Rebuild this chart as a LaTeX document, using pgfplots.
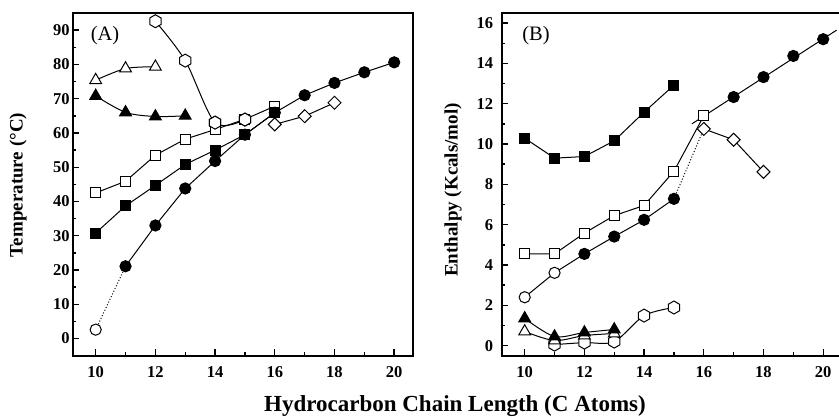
\documentclass[border=0pt]{standalone}
\usepackage{pgfplots}
\pgfplotsset{compat=1.18}
\usepackage{fontspec}
\setmainfont{Liberation Serif}

\pgfdeclareplotmark{hexagon}{%
  \pgfpathmoveto{\pgfpointpolar{90}{\pgfplotmarksize}}%
  \pgfpathlineto{\pgfpointpolar{150}{\pgfplotmarksize}}%
  \pgfpathlineto{\pgfpointpolar{210}{\pgfplotmarksize}}%
  \pgfpathlineto{\pgfpointpolar{270}{\pgfplotmarksize}}%
  \pgfpathlineto{\pgfpointpolar{330}{\pgfplotmarksize}}%
  \pgfpathlineto{\pgfpointpolar{30}{\pgfplotmarksize}}%
  \pgfpathclose
  \pgfusepathqfillstroke}
\pgfdeclareplotmark{rdiamond}{%
  \pgfpathmoveto{\pgfpoint{0pt}{\pgfplotmarksize}}%
  \pgfpathlineto{\pgfpoint{\pgfplotmarksize}{0pt}}%
  \pgfpathlineto{\pgfpoint{0pt}{-\pgfplotmarksize}}%
  \pgfpathlineto{\pgfpoint{-\pgfplotmarksize}{0pt}}%
  \pgfpathclose
  \pgfusepathqfillstroke}

\pgfplotsset{
  base/.style={
    scale only axis, width=340.3pt, height=342.7pt,
    xmin=9.23, xmax=20.63,
    axis line style={line width=1.7pt},
    every tick/.style={black, line width=1.4pt},
    tick align=inside, xtick pos=bottom, ytick pos=left,
    major tick length=6.5pt, minor tick length=3.5pt,
    xtick={10,12,...,20}, minor x tick num=1, minor y tick num=1,
    tick label style={font=\fontsize{16.5}{16.5}\selectfont\bfseries},
    /pgf/number format/assume math mode=true,
    xticklabel style={yshift=-7.5pt},
    every axis plot/.append style={black, line width=1pt},
  },
  fc/.style={mark=*, mark size=5.6pt, mark options={solid, fill=black}},
  oc/.style={mark=*, mark size=5.6pt, mark options={solid, fill=white}},
  fs/.style={mark=square*, mark size=5pt, mark options={solid, fill=black}},
  os/.style={mark=square*, mark size=5pt, mark options={solid, fill=white}},
  ft/.style={mark=triangle*, mark size=6.8pt, mark options={solid, fill=black}},
  ot/.style={mark=triangle*, mark size=6.8pt, mark options={solid, fill=white}},
  oh/.style={mark=hexagon, mark size=6.5pt, mark options={solid, fill=white}},
  od/.style={mark=rdiamond, mark size=6.5pt, mark options={solid, fill=white}},
}

\begin{document}
\begin{tikzpicture}[x=1pt,y=1pt]
\path[use as bounding box] (0,0) rectangle (839,418);
\clip (0,0) rectangle (839,418);

% ---------------- Panel A ----------------
\begin{axis}[base, at={(72.7pt,62.3pt)}, anchor=south west,
  ymin=-5, ymax=95, ytick={0,10,...,90},
  yticklabel style={xshift=0.5pt}]
\addplot[smooth, oh] coordinates {(12,92.6) (13,81.1) (14,63.0) (15,63.9)};
\addplot[smooth, ot] coordinates {(10,75.4) (11,78.8) (12,79.3)};
\addplot[smooth, ft] coordinates {(10,70.8) (11,66.0) (12,64.8) (13,65.0)};
\addplot[os] coordinates {(10,42.5) (11,45.9) (12,53.5) (13,58.2) (14,61.0) (15,64.0) (16,67.8)};
\addplot[fs] coordinates {(10,30.8) (11,38.7) (12,44.7) (13,50.8) (14,55.0) (15,59.5) (16,65.9)};
\addplot[dotted, line width=1pt, mark=none] coordinates {(10,2.6) (11,21.1)};
\addplot[only marks, oc] coordinates {(10,2.6)};
\addplot[fc] coordinates {(11,21.1) (12,33.0) (13,43.8) (14,51.8) (15,59.5) (16,65.9) (17,71.0) (18,74.6) (19,77.7) (20,80.6)};
\addplot[od] coordinates {(16,62.5) (17,64.9) (18,68.8)};
\addplot[only marks, oh] coordinates {(14,63.0) (15,63.9)};
\end{axis}

% ---------------- Panel B ----------------
\begin{axis}[base, at={(501.7pt,62.3pt)}, anchor=south west,
  ymin=-0.5, ymax=16.5, ytick={0,2,...,16},
  yticklabel style={xshift=-5pt}]
\addplot[fs] coordinates {(10,10.29) (11,9.30) (12,9.38) (13,10.16) (14,11.58) (15,12.92)};
\addplot[mark=none] coordinates {(15.6,11.0) (20.45,15.65)};
\addplot[only marks, fc] coordinates {(17,12.33) (18,13.32) (19,14.37) (20,15.2)};
\addplot[dotted, line width=1pt, mark=none] coordinates {(15,7.28) (16,10.75)};
\addplot[os] coordinates {(10,4.55) (11,4.55) (12,5.58) (13,6.45) (14,6.95) (15,8.65) (16,11.4)};
\addplot[od] coordinates {(16,10.75) (17,10.21) (18,8.62)};
\addplot[mark=none] coordinates {(10,2.40) (11,3.61) (12,4.55) (13,5.41) (14,6.24) (15,7.28)};
\addplot[only marks, oc] coordinates {(10,2.40) (11,3.61)};
\addplot[only marks, fc] coordinates {(12,4.55) (13,5.41) (14,6.24) (15,7.28)};
\addplot[smooth, oh] coordinates {(11,0.05) (12,0.15) (13,0.2) (14,1.49) (15,1.89)};
\addplot[smooth, ot] coordinates {(10,0.7) (11,0.25) (12,0.5) (13,0.6)};
\addplot[smooth, ft] coordinates {(10,1.35) (11,0.45) (12,0.65) (13,0.8)};
\end{axis}

% ---------------- Labels ----------------
\node[font=\fontsize{20.5}{20.5}\selectfont] at (105,382) {(A)};
\node[font=\fontsize{20.5}{20.5}\selectfont] at (536,382) {(B)};
\node[rotate=90, font=\fontsize{19}{19}\selectfont\bfseries] at (18,233) {Temperature (°C)};
\node[rotate=90, font=\fontsize{19}{19}\selectfont\bfseries] at (453,228) {Enthalpy (Kcals/mol)};
\node[font=\fontsize{23}{23}\selectfont\bfseries] at (455,12) {Hydrocarbon Chain Length (C Atoms)};
\end{tikzpicture}
\end{document}
